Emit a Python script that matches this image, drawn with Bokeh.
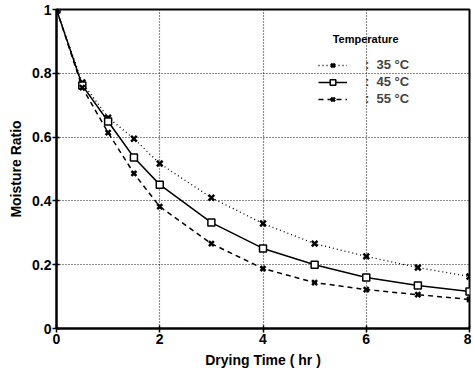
from bokeh.plotting import figure
from bokeh.models import Legend, LegendItem, FixedTicker, Range1d, Label
from bokeh.embed import file_html
from bokeh.resources import INLINE

time_hr = [0, 0.5, 1, 1.5, 2, 3, 4, 5, 6, 7, 8]
mr_35 = [1.0, 0.771, 0.661, 0.595, 0.517, 0.410, 0.329, 0.266, 0.226, 0.191, 0.163]
mr_45 = [1.0, 0.762, 0.649, 0.536, 0.451, 0.332, 0.251, 0.200, 0.160, 0.135, 0.116]
mr_55 = [1.0, 0.755, 0.614, 0.486, 0.382, 0.266, 0.188, 0.144, 0.122, 0.106, 0.091]
x_ticks = [0, 2, 4, 6, 8]
y_ticks = [0, 0.2, 0.4, 0.6, 0.8, 1]
y_tick_labels = {0: "0", 0.2: "0.2", 0.4: "0.4", 0.6: "0.6", 0.8: "0.8", 1: "1"}
legend_title = "Temperature"
labels = [":  35 °C", ":  45 °C", ":  55 °C"]

FONT = "Liberation Sans"

p = figure(width=471, height=370, output_backend="svg", toolbar_location=None,
           x_range=Range1d(0, 8), y_range=Range1d(0, 1),
           min_border_left=56, min_border_right=2, min_border_top=9, min_border_bottom=10)
p.outline_line_color = "black"
p.outline_line_width = 2
p.background_fill_color = "white"

p.xaxis.ticker = FixedTicker(ticks=x_ticks)
p.yaxis.ticker = FixedTicker(ticks=y_ticks)
p.yaxis.major_label_overrides = y_tick_labels
for ax in (p.xaxis, p.yaxis):
    ax.axis_line_width = 2
    ax.axis_line_color = "black"
    ax.major_tick_out = 4
    ax.major_tick_in = 3
    ax.major_tick_line_width = 1.5
    ax.minor_tick_line_color = None
    ax.major_label_text_font = FONT
    ax.major_label_text_font_size = "14px"
    ax.major_label_text_font_style = "bold"
    ax.major_label_text_color = "black"
    ax.axis_label_text_font = FONT
    ax.axis_label_text_font_size = "14px"
    ax.axis_label_text_font_style = "bold"
    ax.axis_label_text_color = "black"
p.xaxis.axis_label = "Drying Time ( hr )"
p.yaxis.axis_label = "Moisture Ratio"
p.xaxis.major_label_standoff = 1
p.xaxis.axis_label_standoff = 5
p.yaxis.major_label_standoff = 1
p.yaxis.axis_label_standoff = 5

for g in (p.xgrid, p.ygrid):
    g.grid_line_color = "black"
    g.grid_line_dash = "1 2"
    g.grid_line_width = 1.2
    g.grid_line_alpha = 0.9

l35 = p.line(time_hr, mr_35, line_color="black", line_width=1.3, line_dash="1 3")
m35 = p.scatter(time_hr, mr_35, marker="x", size=8, line_color="black", line_width=2.5)
l45 = p.line(time_hr, mr_45, line_color="black", line_width=1.5)
m45 = p.scatter(time_hr, mr_45, marker="square", size=7, line_color="black",
                fill_color="white", line_width=1.5)
l55 = p.line(time_hr, mr_55, line_color="black", line_width=1.5, line_dash="5 4")
m55 = p.scatter(time_hr, mr_55, marker="x", size=7, line_color="black", line_width=2.5)

legend = Legend(items=[LegendItem(label=labels[0], renderers=[l35, m35]),
                       LegendItem(label=labels[1], renderers=[l45, m45]),
                       LegendItem(label=labels[2], renderers=[l55, m55])],
                location=(262, 222),
                border_line_color=None, background_fill_alpha=0,
                glyph_width=29, glyph_height=14, label_height=14,
                label_standoff=18, spacing=2, padding=4,
                label_text_font=FONT, label_text_font_size="13px",
                label_text_font_style="bold")
p.add_layout(legend)

p.add_layout(Label(x=5.35, y=0.906, text=legend_title, text_font=FONT,
                   text_font_size="11px", text_font_style="bold",
                   text_baseline="middle", text_color="black"))

open("out.html", "w").write(file_html(p, INLINE))
